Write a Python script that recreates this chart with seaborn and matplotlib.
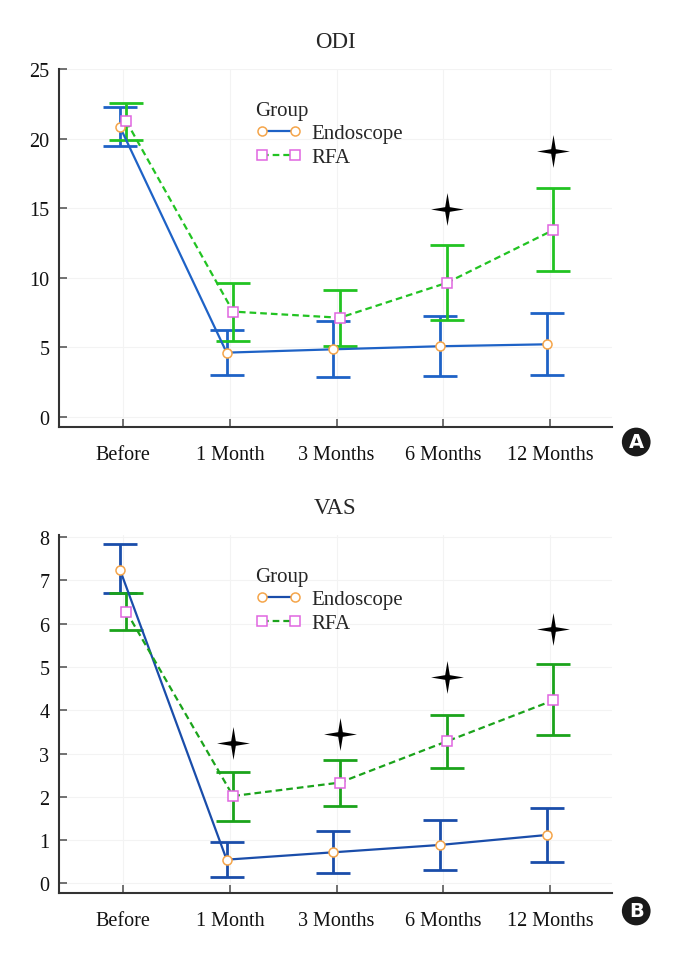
import numpy as np
import pandas as pd
import seaborn as sns
import matplotlib.pyplot as plt
from matplotlib.path import Path

# Data
timepoints = ["Before", "1 Month", "3 Months", "6 Months", "12 Months"]

odi_endo_mean = [20.85, 4.62, 4.86, 5.08, 5.22]
odi_endo_lo = [19.45, 3.02, 2.85, 2.92, 3.04]
odi_endo_hi = [22.30, 6.25, 6.87, 7.28, 7.47]
odi_rfa_mean = [21.24, 7.57, 7.13, 9.63, 13.43]
odi_rfa_lo = [19.92, 5.48, 5.10, 6.97, 10.46]
odi_rfa_hi = [22.53, 9.60, 9.14, 12.33, 16.45]
odi_star_t = [3, 4]
odi_star_y = [14.94, 19.09]

vas_endo_mean = [7.25, 0.55, 0.72, 0.89, 1.12]
vas_endo_lo = [6.70, 0.16, 0.24, 0.32, 0.49]
vas_endo_hi = [7.83, 0.95, 1.22, 1.47, 1.74]
vas_rfa_mean = [6.28, 2.02, 2.33, 3.28, 4.23]
vas_rfa_lo = [5.85, 1.45, 1.80, 2.67, 3.42]
vas_rfa_hi = [6.72, 2.58, 2.85, 3.88, 5.06]
vas_star_t = [1, 2, 3, 4]
vas_star_y = [3.25, 3.46, 4.77, 5.87]

sns.set_style("white")
plt.rcParams["font.family"] = ["Liberation Serif", "DejaVu Serif"]

# thin four-pointed star marker
ang = np.arange(8) * np.pi / 4 + np.pi / 2
rad = np.where(np.arange(8) % 2 == 0, 1.0, 0.2)
star = Path(np.column_stack([rad * np.cos(ang), rad * np.sin(ang)]).tolist() + [[0, 1]],
            closed=True)


def make_df(em, el, eh, rm, rl, rh):
    rows = []
    for grp, m, lo, hi, off in [("Endoscope", em, el, eh, -0.03), ("RFA", rm, rl, rh, 0.03)]:
        for i, t in enumerate(timepoints):
            rows.append({"time": t, "x": i + off, "Group": grp,
                         "mean": m[i], "lo": lo[i], "hi": hi[i]})
    return pd.DataFrame(rows)


def panel(ax, df, title, star_t, star_y, ylim, yticks, blue, green):
    styles = {
        "Endoscope": dict(color=blue, linestyle="-", marker="o",
                          markeredgecolor="#F5A54A"),
        "RFA": dict(color=green, linestyle=(0, (3, 1.8)), marker="s",
                    markeredgecolor="#E066E0"),
    }
    for grp, sub in df.groupby("Group"):
        st = styles[grp]
        ax.errorbar(sub["x"], sub["mean"],
                    yerr=[sub["mean"] - sub["lo"], sub["hi"] - sub["mean"]],
                    fmt="none", ecolor=st["color"], elinewidth=2.0,
                    capsize=12.5, capthick=2.0, zorder=1.5)
        sns.lineplot(data=sub, x="x", y="mean", ax=ax, estimator=None,
                     color=st["color"], linestyle=st["linestyle"], linewidth=1.6,
                     marker=st["marker"], markersize=6.5, markerfacecolor="white",
                     markeredgecolor=st["markeredgecolor"], markeredgewidth=1.1,
                     label=grp, zorder=3)
    sns.scatterplot(x=np.array(star_t) + 0.03, y=star_y, ax=ax, marker=star,
                    s=560, color="black", linewidth=0, zorder=4)

    ax.set_xlim(-0.6, 4.58)
    ax.set_ylim(*ylim)
    ax.set_xticks(range(len(timepoints)))
    ax.set_xticklabels(timepoints)
    ax.set_yticks(yticks)
    ax.set_xlabel("")
    ax.set_ylabel("")
    ax.set_title(title, fontsize=16.5, pad=16)
    ax.grid(True, color="#F3F3F3", linewidth=0.8)
    ax.tick_params(axis="both", direction="in", length=6, width=1.3,
                   color="#666666", labelsize=14.5, bottom=True, left=True,
                   labelcolor="#111111")
    ax.tick_params(axis="x", pad=13)
    ax.tick_params(axis="y", pad=7)
    sns.despine(ax=ax)
    for s in ["left", "bottom"]:
        ax.spines[s].set_color("#333333")
        ax.spines[s].set_linewidth(1.5)
    leg = ax.legend(title="Group", loc="upper left", bbox_to_anchor=(0.34, 0.935),
                    frameon=False, numpoints=2, handlelength=2.2, fontsize=15,
                    title_fontsize=15, borderaxespad=0, handletextpad=0.5,
                    labelspacing=0.2)
    leg._legend_box.align = "left"


fig = plt.figure(figsize=(6.79, 9.54), dpi=100)
ax1 = fig.add_axes([0.087, 0.5514, 0.8143, 0.3752])
ax2 = fig.add_axes([0.087, 0.0629, 0.8143, 0.3753])

panel(ax1, make_df(odi_endo_mean, odi_endo_lo, odi_endo_hi,
                   odi_rfa_mean, odi_rfa_lo, odi_rfa_hi),
      "ODI", odi_star_t, odi_star_y, (-0.72, 25), [0, 5, 10, 15, 20, 25],
      "#1E62C6", "#22C322")
panel(ax2, make_df(vas_endo_mean, vas_endo_lo, vas_endo_hi,
                   vas_rfa_mean, vas_rfa_lo, vas_rfa_hi),
      "VAS", vas_star_t, vas_star_y, (-0.22, 8.05), list(range(9)),
      "#1A4DAA", "#1BA31B")

for lab, y in [("A", 1 - 443 / 954), ("B", 1 - 912 / 954)]:
    fig.text(0.937, y, lab, ha="center", va="center", color="white",
             fontsize=14, fontweight="bold", family="DejaVu Sans",
             bbox=dict(boxstyle="circle,pad=0.25", fc="#1a1a1a", ec="none"))

fig.savefig("out.png", dpi=100)
